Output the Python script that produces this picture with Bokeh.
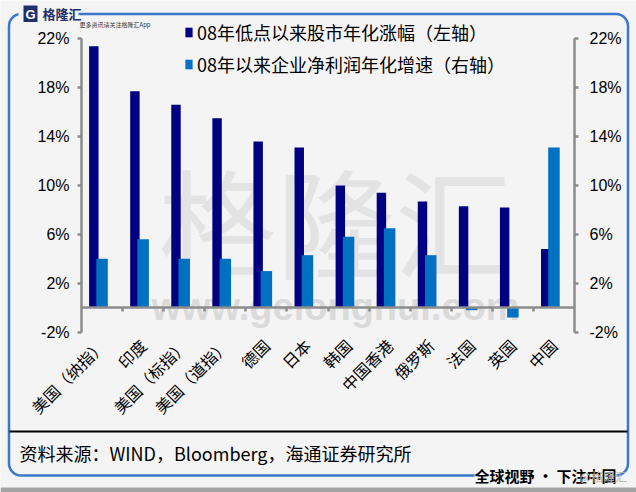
from math import pi, cos, sin
from bokeh.plotting import figure
from bokeh.models import (Range1d, LinearAxis, FixedTicker, PrintfTickFormatter,
                          Legend, LegendItem, Label, BoxAnnotation, ColumnDataSource)
from bokeh.transform import dodge
from bokeh.embed import file_html
from bokeh.resources import INLINE

# ---------------- data ----------------
categories = ["美国（纳指）", "印度", "美国（标指）", "美国（道指）", "德国", "日本",
              "韩国", "中国香港", "俄罗斯", "法国", "英国", "中国"]
stock_cagr = [21.4, 17.7, 16.6, 15.5, 13.6, 13.1, 10.0, 9.4, 8.7, 8.3, 8.2, 4.8]
profit_cagr = [4.0, 5.6, 4.0, 4.0, 3.0, 4.3, 5.8, 6.5, 4.3, -0.2, -0.8, 13.1]
y_ticks = [-2, 2, 6, 10, 14, 18, 22]
series_names = ["08年低点以来股市年化涨幅（左轴）", "08年以来企业净利润年化增速（右轴）"]
source_text = "资料来源：WIND，Bloomberg，海通证券研究所"
slogan = "全球视野 • 下注中国"
brand = "格隆汇"
brand_url = "www.gelonghui.com"
brand_note = "更多资讯请关注格隆汇App"
brand_mark = "@格隆汇"

# ---------------- layout (page pixels) ----------------
W, H = 636, 492
CH_L, CH_R, CH_T, CH_B = 81, 574, 38.3, 331.7   # chart area inside the canvas
Y0, Y1 = -2, 22
N = len(categories)
PPX = (CH_R - CH_L) / N
PPY = (CH_B - CH_T) / (Y1 - Y0)

BG = "#f4f4f4"
DARK = "#000080"
LIGHT = "#0070C0"
AXIS = "#8c8c8c"
FRAME = "#3b78c8"
CJK = "Noto Sans CJK SC"
LAT = "Liberation Sans"


def rx(x_px):
    return (x_px - CH_L) / PPX


def ry(y_px):
    return Y1 - (y_px - CH_T) / PPY


def box(l, r, t, b, color, level="overlay"):
    return BoxAnnotation(left=rx(l), right=rx(r), top=ry(t), bottom=ry(b),
                         fill_color=color, fill_alpha=1, line_alpha=0, level=level)


def rounded_path(x0, y0, x1, y1, r, steps=8):
    """outline of a rounded rectangle, in page pixels -> data coordinates"""
    corners = [(x1 - r, y0 + r, -90), (x1 - r, y1 - r, 0),
               (x0 + r, y1 - r, 90), (x0 + r, y0 + r, 180)]
    xs, ys = [], []
    for cx, cy, start in corners:
        for k in range(steps + 1):
            a = (start + 90 * k / steps) * pi / 180
            xs.append(rx(cx + r * cos(a)))
            ys.append(ry(cy + r * sin(a)))
    xs.append(xs[0])
    ys.append(ys[0])
    return xs, ys


p = figure(width=W, height=H,
           x_range=Range1d(rx(0), rx(W)), y_range=Range1d(ry(H), ry(0)),
           x_axis_location=None, y_axis_location=None,
           output_backend="svg", toolbar_location=None,
           min_border=0, min_border_left=0, min_border_right=0,
           min_border_top=0, min_border_bottom=0)
p.background_fill_color = BG
p.border_fill_color = BG
p.outline_line_color = None
p.xgrid.visible = False
p.ygrid.visible = False

# bottom strip
p.add_layout(box(0, W, 487, H, "#a3a3a3", "underlay"))

# watermark
p.add_layout(Label(x=rx(335), y=ry(218), text=brand, text_align="center",
                   text_baseline="middle", text_font=CJK, text_font_size="118px",
                   text_color="#e3e3e3", level="underlay"))
p.add_layout(Label(x=rx(335), y=ry(306), text=brand_url, text_align="center",
                   text_baseline="middle", text_font=LAT, text_font_size="38px",
                   text_font_style="bold", text_color="#dadada", level="underlay"))

# ---------------- blue rounded outer frame ----------------
fx, fy = rounded_path(8.5, 13.5, 627.5, 475, 12)
p.line(x=fx, y=fy, line_color=FRAME, line_width=2.5, line_alpha=1.0)

# ---------------- bars ----------------
src = ColumnDataSource(dict(x=[i + 0.5 for i in range(N)], stock=stock_cagr,
                            profit=profit_cagr))
r1 = p.vbar(x=dodge("x", -0.2), top="stock", bottom=0, width=0.23, source=src,
            fill_color=DARK, line_color=None)
r2 = p.vbar(x="x", top="profit", bottom=0, width=0.28, source=src,
            fill_color=LIGHT, line_color=None)

# ---------------- axes ----------------
axis_style = dict(axis_line_color=AXIS, axis_line_width=2.5,
                  major_tick_line_color=AXIS, major_tick_line_width=2.5,
                  major_tick_in=0, major_tick_out=4, minor_tick_line_color=None,
                  major_label_text_font=LAT, major_label_text_font_size="16px",
                  major_label_text_color="black")

left = LinearAxis(fixed_location=0, bounds=(Y0, Y1), ticker=FixedTicker(ticks=y_ticks),
                  formatter=PrintfTickFormatter(format="%d%%"), major_label_standoff=8,
                  **axis_style)
p.add_layout(left, "left")
right = LinearAxis(fixed_location=N, bounds=(Y0, Y1), ticker=FixedTicker(ticks=y_ticks),
                   formatter=PrintfTickFormatter(format="%d%%"), major_label_standoff=11,
                   **axis_style)
p.add_layout(right, "right")

# zero line with category separators
zero = LinearAxis(fixed_location=0, bounds=(0, N),
                  ticker=FixedTicker(ticks=list(range(1, N))),
                  major_label_overrides={i: "" for i in range(1, N)}, **axis_style)
p.add_layout(zero, "below")

# category labels
cat_axis = LinearAxis(fixed_location=Y0,
                      ticker=FixedTicker(ticks=[i + 0.5 for i in range(N)]),
                      major_label_overrides={i + 0.5: c for i, c in enumerate(categories)},
                      axis_line_color=None, major_tick_line_color=None,
                      minor_tick_line_color=None, major_label_orientation=pi / 4,
                      major_label_text_font=CJK, major_label_text_font_size="16px",
                      major_label_text_color="black", major_label_standoff=4)
p.add_layout(cat_axis, "below")

# ---------------- legend ----------------
legend = Legend(items=[LegendItem(label=series_names[0], renderers=[r1]),
                       LegendItem(label=series_names[1], renderers=[r2])],
                location=(184, H - 80), orientation="vertical",
                label_text_font=CJK, label_text_font_size="18px",
                label_text_color="black", glyph_width=9, glyph_height=12,
                label_height=32, label_standoff=4, spacing=0, padding=0, margin=0,
                border_line_color=None, background_fill_alpha=0)
p.add_layout(legend, "center")

# ---------------- frame decorations ----------------
# source separator
p.add_layout(box(9, 627, 430, 432, "black"))
p.add_layout(Label(x=rx(19), y=ry(452), text=source_text, text_align="left",
                   text_baseline="middle", text_font=CJK, text_font_size="18px",
                   text_color="black", level="overlay"))
p.add_layout(Label(x=rx(545), y=ry(475), text=slogan, text_align="center",
                   text_baseline="middle", text_font=CJK, text_font_size="15px",
                   text_font_style="bold", text_color="black",
                   background_fill_color=BG, background_fill_alpha=1, level="overlay"))
p.add_layout(Label(x=rx(603), y=ry(476), text=brand_mark, text_align="center",
                   text_baseline="middle", text_font=CJK, text_font_size="12px",
                   text_color="#b8b8b8", level="overlay"))
# logo
p.add_layout(box(18, 78, 8, 19, BG))
p.add_layout(box(23, 37, 5, 21.5, "#1f2f6b"))
p.add_layout(Label(x=rx(30), y=ry(13.5), text="G", text_align="center",
                   text_baseline="middle", text_font=LAT, text_font_size="13px",
                   text_font_style="bold", text_color="white", level="overlay"))
p.add_layout(Label(x=rx(42), y=ry(13), text=brand, text_align="left",
                   text_baseline="middle", text_font=CJK, text_font_size="13px",
                   text_font_style="bold", text_color="#1f2f6b", level="overlay"))
p.add_layout(Label(x=rx(79), y=ry(23.5), text=brand_note, text_align="left",
                   text_baseline="middle", text_font=CJK, text_font_size="6px",
                   text_color="#333333", level="overlay"))

open("out.html", "w").write(file_html(p, INLINE))
